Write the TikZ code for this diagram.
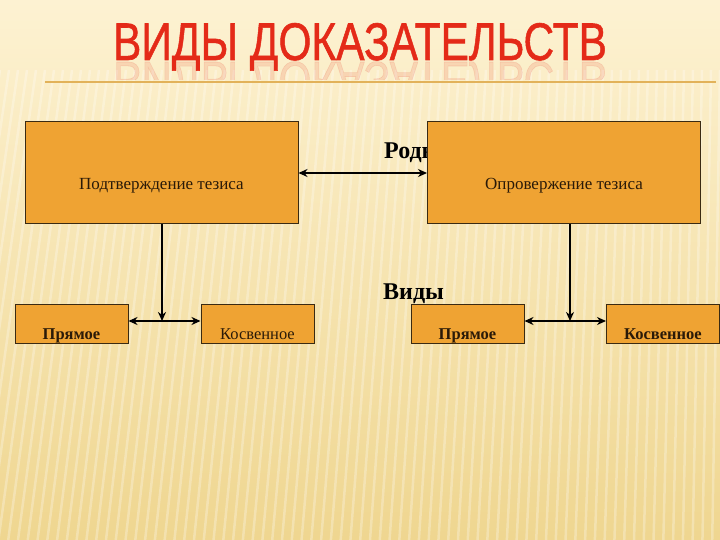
\documentclass[tikz,border=0pt]{standalone}
\usepackage{fontspec}
\setmainfont{Liberation Serif}
\newfontfamily\titlefont[UprightFeatures={FakeBold=1.1}]{Liberation Sans}
\usetikzlibrary{arrows.meta}
\definecolor{bgtop}{HTML}{FDF2D2}
\definecolor{bgbot}{HTML}{EFD690}
\definecolor{boxfill}{HTML}{EFA333}
\definecolor{boxline}{HTML}{3A2A12}
\definecolor{titlered}{HTML}{E42A18}
\definecolor{rulegold}{HTML}{E2B25A}
\definecolor{textdark}{HTML}{2A1A08}
\tikzset{
  bigbox/.style={draw=boxline, line width=1pt, fill=boxfill, minimum width=273pt, minimum height=102pt, inner sep=0pt},
  smallbox/.style={draw=boxline, line width=1pt, fill=boxfill, minimum width=113pt, minimum height=39pt, inner sep=0pt},
  boxtext/.style={anchor=base, inner sep=0pt, text=textdark, font=\fontsize{17}{19}\selectfont},
  smalltext/.style={anchor=base, inner sep=0pt, text=textdark, font=\fontsize{16.5}{18}\selectfont\bfseries},
  headtext/.style={anchor=base west, inner sep=0pt, font=\fontsize{24}{27}\selectfont\bfseries},
  conn/.style={line width=2pt, black},
  tip/.style={-{Stealth[length=9pt,width=8pt]}},
  both/.style={{Stealth[length=9pt,width=8pt]}-{Stealth[length=9pt,width=8pt]}}
}
\begin{document}
\begin{tikzpicture}[x=1pt,y=-1pt]
\useasboundingbox (0,0) rectangle (720,540);
% background
\shade[top color=bgtop, bottom color=bgbot] (0,0) rectangle (720,540);
\foreach \i in {0,...,90}{
  \pgfmathsetmacro{\xa}{\i*9}
  \pgfmathsetmacro{\xb}{\i*9-70*(1-\i/90)}
  \draw[white, opacity=0.28, line width=2.5pt] (\xa,70) -- (\xb,540);
}
% title
\node[anchor=base, inner sep=0pt, text=titlered, font=\titlefont\fontsize{53}{60}\selectfont, xscale=0.8] (title) at (360,60) {ВИДЫ ДОКАЗАТЕЛЬСТВ};
\begin{scope}
\clip (100,61) rectangle (620,80);
\node[anchor=base, inner sep=0pt, text=titlered, opacity=0.13, font=\titlefont\fontsize{53}{60}\selectfont, xscale=0.8, yscale=-1] (refl) at (360,62) {ВИДЫ ДОКАЗАТЕЛЬСТВ};
\end{scope}
\coordinate (ruleL) at (45,82);
\coordinate (ruleR) at (716,82);
\draw[rulegold, line width=1.5pt] (ruleL) -- (ruleR);
% labels behind boxes
\node[headtext] (rody) at (384,159) {Роды};
\node[headtext] (vidy) at (383,299) {Виды};
% big boxes
\node[bigbox] (b1) at (161.5,173) {};
\node[bigbox] (b2) at (564,173) {};
\node[boxtext] (t1) at (161.5,190) {Подтверждение тезиса};
\node[boxtext] (t2) at (564,190) {Опровержение тезиса};
% small boxes
\node[smallbox] (s1) at (71.5,323.5) {};
\node[smallbox] (s2) at (257.5,323.5) {};
\node[smallbox] (s3) at (467.5,323.5) {};
\node[smallbox] (s4) at (663,323.5) {};
\node[smalltext] (u1) at (71.5,339) {Прямое};
\node[smalltext, font=\fontsize{16.5}{18}\selectfont] (u2) at (257.5,339) {Косвенное};
\node[smalltext] (u3) at (467.5,339) {Прямое};
\node[smalltext] (u4) at (663,339) {Косвенное};
% connectors
\draw[conn, both] (b1.east) -- (b2.west);
\coordinate (j1) at (162,321);
\coordinate (j2) at (570,321);
\draw[conn, tip] (b1.south -| j1) -- (j1);
\draw[conn, tip] (b2.south -| j2) -- (j2);
\draw[conn, both] (s1.east |- j1) -- (s2.west |- j1);
\draw[conn, both] (s3.east |- j2) -- (s4.west |- j2);
\end{tikzpicture}
\end{document}
